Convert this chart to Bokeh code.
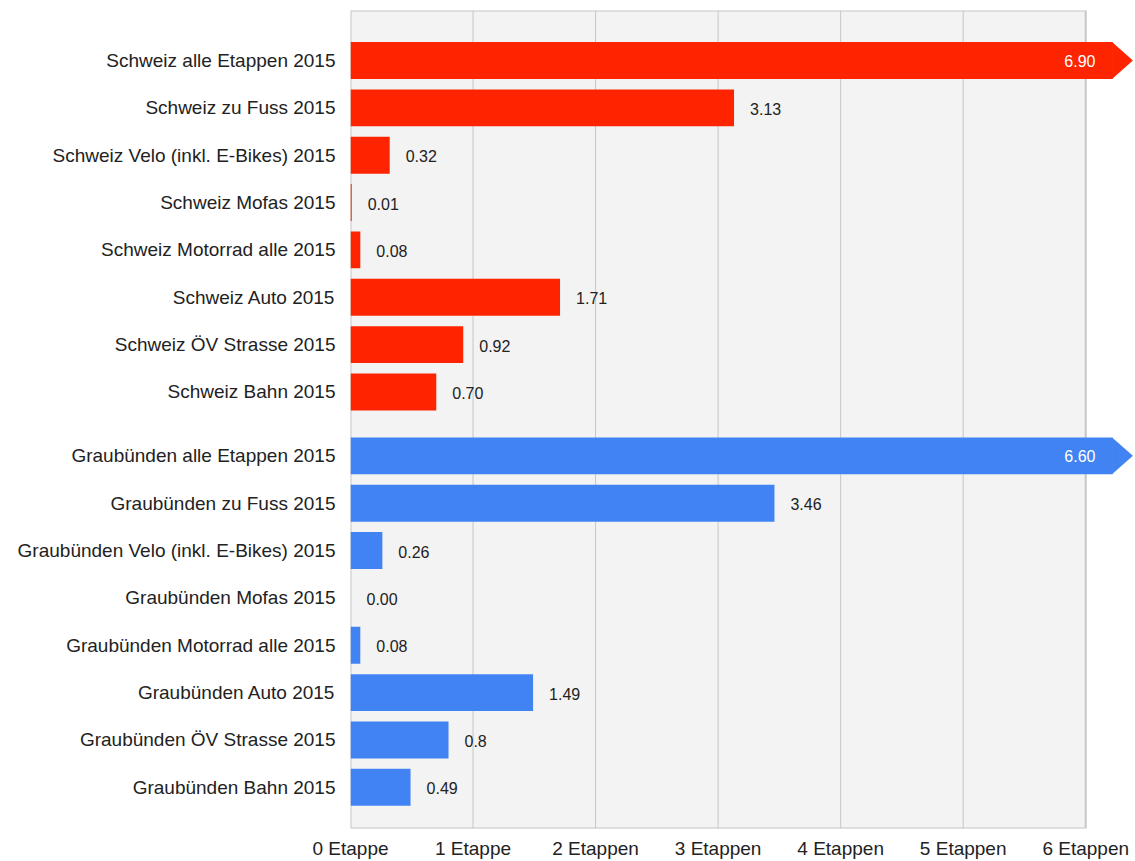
from bokeh.plotting import figure
from bokeh.models import Range1d, FixedTicker
from bokeh.core.properties import value
from bokeh.embed import file_html
from bokeh.resources import INLINE

# ---------------- data ----------------
categories_ch = [
    "Schweiz alle Etappen 2015",
    "Schweiz zu Fuss 2015",
    "Schweiz Velo (inkl. E-Bikes) 2015",
    "Schweiz Mofas 2015",
    "Schweiz Motorrad alle 2015",
    "Schweiz Auto 2015",
    "Schweiz ÖV Strasse 2015",
    "Schweiz Bahn 2015",
]
values_ch = [6.90, 3.13, 0.32, 0.01, 0.08, 1.71, 0.92, 0.70]
labels_ch = ["6.90", "3.13", "0.32", "0.01", "0.08", "1.71", "0.92", "0.70"]

categories_gr = [
    "Graubünden alle Etappen 2015",
    "Graubünden zu Fuss 2015",
    "Graubünden Velo (inkl. E-Bikes) 2015",
    "Graubünden Mofas 2015",
    "Graubünden Motorrad alle 2015",
    "Graubünden Auto 2015",
    "Graubünden ÖV Strasse 2015",
    "Graubünden Bahn 2015",
]
values_gr = [6.60, 3.46, 0.26, 0.00, 0.08, 1.49, 0.80, 0.49]
labels_gr = ["6.60", "3.46", "0.26", "0.00", "0.08", "1.49", "0.8", "0.49"]

x_ticks = [0, 1, 2, 3, 4, 5, 6]
x_tick_labels = ["0 Etappe", "1 Etappe", "2 Etappen", "3 Etappen",
                 "4 Etappen", "5 Etappen", "6 Etappen"]

# ---------------- layout / style constants ----------------
RED = "#ff2400"
BLUE = "#4183f2"
GROUP_GAP = 8.35          # row offset of the second group
XMAX = 6.0                # axis maximum (grey plot area)
X_END = 6.39              # frame end (room for overflow arrows)
CLIP = 6.22               # where overflowing bars are cut
TIP = 6.385               # arrow tip
IN_LABEL_X = 6.08         # right edge of labels inside overflowing bars
BAR_H = 0.78
Y_TOP = -1.056
Y_BOTTOM = 16.22
FONT = value("Liberation Sans")
TXT = "#222222"

ys = [i for i in range(len(categories_ch))] + \
     [i + GROUP_GAP for i in range(len(categories_gr))]
cats = categories_ch + categories_gr
vals = values_ch + values_gr
labs = labels_ch + labels_gr
cols = [RED] * len(values_ch) + [BLUE] * len(values_gr)

p = figure(width=1133, height=861,
           x_range=Range1d(0, X_END), y_range=Range1d(Y_BOTTOM, Y_TOP),
           output_backend="svg", toolbar_location=None,
           min_border_left=350, min_border_right=0,
           min_border_top=10, min_border_bottom=0)
p.outline_line_color = None
p.background_fill_color = "white"
p.border_fill_color = "white"
p.grid.visible = False

# grey plot area and grid lines
p.quad(left=0, right=XMAX, top=Y_TOP, bottom=Y_BOTTOM,
       fill_color="#f3f3f3", line_color="#c6c6c6", line_width=2)
inner = [t for t in x_ticks if 0 < t < XMAX]
p.segment(x0=inner, x1=inner, y0=[Y_TOP] * len(inner), y1=[Y_BOTTOM] * len(inner),
          line_color="#c6c6c6", line_width=1)

# bars
rights = [min(v, CLIP) for v in vals]
p.hbar(y=ys, left=0, right=rights, height=BAR_H, fill_color=cols, line_color=None)

# overflow arrows
ax, ay, acol = [], [], []
for y, v, c in zip(ys, vals, cols):
    if v > XMAX:
        ax.append([CLIP - 0.005, TIP, CLIP - 0.005])
        ay.append([y - BAR_H / 2, y, y + BAR_H / 2])
        acol.append(c)
if ax:
    p.patches(xs=ax, ys=ay, fill_color=acol, line_color=None)

# value labels
out_x, out_y, out_t = [], [], []
in_x, in_y, in_t = [], [], []
for y, v, t in zip(ys, vals, labs):
    if v > XMAX:
        in_x.append(IN_LABEL_X); in_y.append(y); in_t.append(t)
    else:
        out_x.append(v); out_y.append(y); out_t.append(t)
p.text(x=out_x, y=out_y, text=out_t, x_offset=16, y_offset=1, text_align="left",
       text_baseline="middle", text_color=TXT, text_font=FONT,
       text_font_size="16px")
p.text(x=in_x, y=in_y, text=in_t, text_align="right",
       text_baseline="middle", text_color="white", text_font=FONT,
       text_font_size="16px")

# axes
xa = p.xaxis[0]
xa.ticker = FixedTicker(ticks=x_ticks)
xa.major_label_overrides = {t: l for t, l in zip(x_ticks, x_tick_labels)}
xa.axis_line_color = None
xa.major_tick_line_color = None
xa.minor_tick_line_color = None
xa.major_label_standoff = 3
xa.major_label_text_font = "Liberation Sans"
xa.major_label_text_font_size = "19px"
xa.major_label_text_color = TXT

ya = p.yaxis[0]
ya.ticker = FixedTicker(ticks=ys)
ya.major_label_overrides = {y: c for y, c in zip(ys, cats)}
ya.axis_line_color = None
ya.major_tick_line_color = None
ya.minor_tick_line_color = None
ya.major_label_standoff = 9
ya.major_label_text_font = "Liberation Sans"
ya.major_label_text_font_size = "19px"
ya.major_label_text_color = TXT

open("out.html", "w").write(file_html(p, INLINE))
